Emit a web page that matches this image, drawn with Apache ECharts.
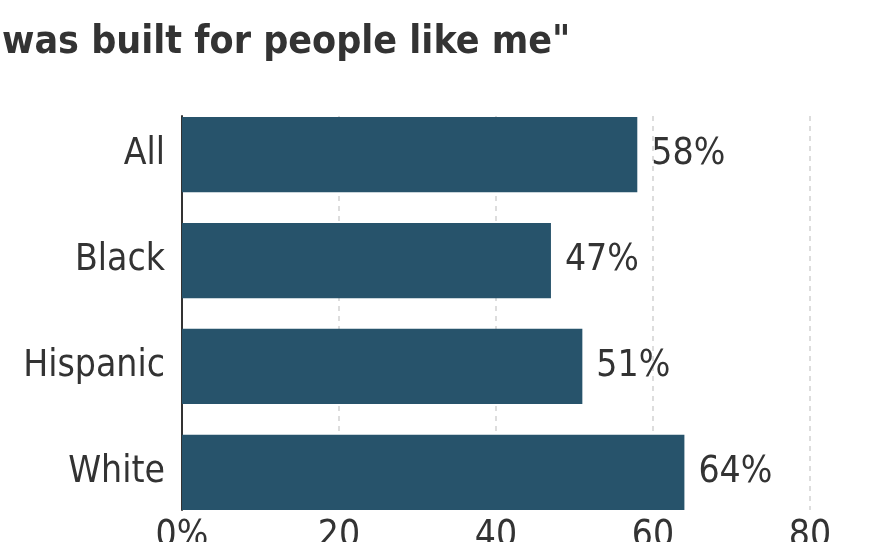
<!DOCTYPE html>
<html>
<head>
<meta charset="utf-8">
<script src="https://cdn.jsdelivr.net/npm/echarts@6/dist/echarts.min.js"></script>
<style>
  html, body { margin: 0; padding: 0; background: #fff; }
  #chart { width: 880px; height: 542px; }
</style>
</head>
<body>
<div id="chart"></div>
<script>
// Datos
const grupos = ['All', 'Black', 'Hispanic', 'White'];
const valores = [58, 47, 51, 64];
const ticksX = [0, 20, 40, 60, 80];

const fuente = '"DejaVu Sans Condensed", "Liberation Sans Narrow", sans-serif';
const texto = '#333333';

var myChart = echarts.init(document.getElementById('chart'), null, { renderer: 'canvas' });
var option;

option = {
    animation: false,
    title: {
        text: 'was built for people like me"',
        left: -3,
        top: 18,
        textStyle: {
            fontFamily: fuente,
            fontSize: 39,
            fontWeight: 'bold',
            color: texto
        }
    },
    grid: [
        // barras
        { left: 182, right: 70, top: 101.6, bottom: 16.6, outerBoundsMode: 'none', containLabel: false },
        // ejes y lineas guia
        { left: 182, right: 70, top: 116, bottom: 32, outerBoundsMode: 'none', containLabel: false }
    ],
    xAxis: [
        {
            gridIndex: 0,
            type: 'value',
            min: ticksX[0],
            max: ticksX[ticksX.length - 1],
            interval: 20,
            show: false
        },
        {
            gridIndex: 1,
            type: 'value',
            min: ticksX[0],
            max: ticksX[ticksX.length - 1],
            interval: 20,
            axisLine: { show: false },
            axisTick: { show: false },
            axisLabel: {
                fontFamily: fuente,
                fontSize: 37,
                color: texto,
                margin: 8,
                formatter: function (v) {
                    return v === 0 ? '0%' : String(v);
                }
            },
            splitLine: {
                show: true,
                lineStyle: { color: '#dddddd', width: 2, type: [5, 5] }
            }
        }
    ],
    yAxis: [
        {
            gridIndex: 0,
            type: 'category',
            data: grupos,
            inverse: true,
            axisLine: { show: false },
            axisTick: { show: false },
            axisLabel: {
                fontFamily: fuente,
                fontSize: 37,
                color: texto,
                margin: 17,
                padding: [4, 0, 0, 0]
            }
        },
        {
            gridIndex: 1,
            type: 'category',
            data: grupos,
            inverse: true,
            axisLine: { show: true, lineStyle: { color: '#333333', width: 2 } },
            axisTick: { show: false },
            axisLabel: { show: false }
        }
    ],
    series: [
        {
            type: 'bar',
            xAxisIndex: 0,
            yAxisIndex: 0,
            data: valores,
            barCategoryGap: '29%',
            itemStyle: { color: '#27536b' },
            label: {
                show: true,
                position: 'right',
                distance: 14,
                fontFamily: fuente,
                fontSize: 37,
                color: texto,
                padding: [6, 0, 0, 0],
                formatter: '{c}%'
            }
        }
    ]
};

option && myChart.setOption(option);
</script>
</body>
</html>
